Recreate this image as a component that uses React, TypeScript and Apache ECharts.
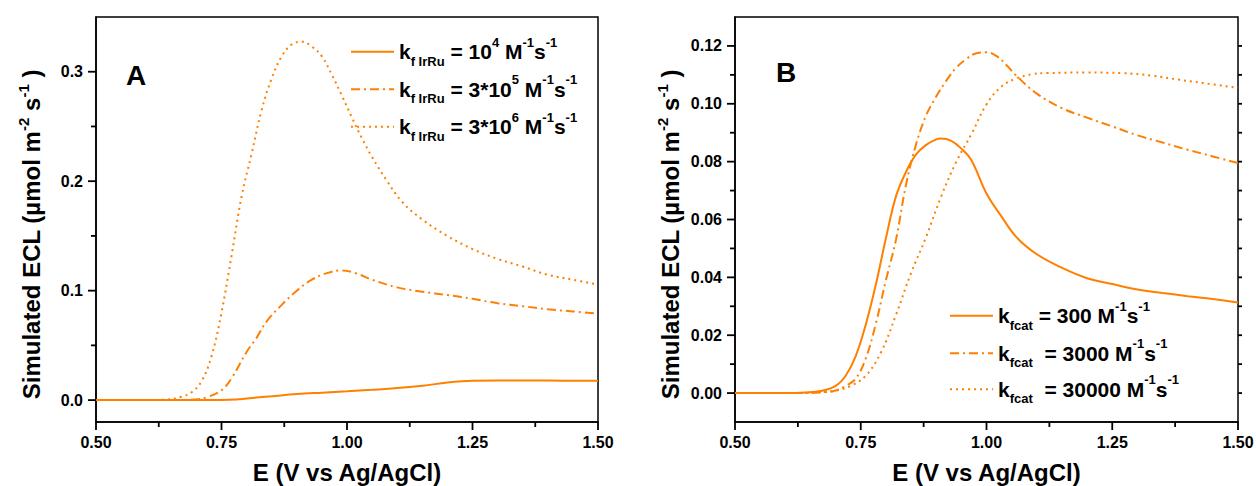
import React, { useEffect, useRef } from "react";
import * as echarts from "echarts";

// ---------- Data (panel A) ----------
const eA1 = [0.5, 0.6, 0.7, 0.75, 0.78, 0.8, 0.85, 0.9, 0.95, 1.0, 1.05, 1.1, 1.15, 1.2, 1.23, 1.25, 1.3, 1.4, 1.5];
const vA1 = [0, 0, 0, 0.0001, 0.0006, 0.0015, 0.0035, 0.0055, 0.0068, 0.008, 0.0094, 0.011, 0.0132, 0.016, 0.0172, 0.0176, 0.0178, 0.0178, 0.0177];

const eA2 = [0.5, 0.6, 0.65, 0.7, 0.72, 0.75, 0.77, 0.8, 0.82, 0.84, 0.87, 0.9, 0.93, 0.96, 0.99, 1.02, 1.05, 1.1, 1.15, 1.2, 1.25, 1.3, 1.35, 1.4, 1.45, 1.5];
const vA2 = [0, 0, 0, 0.0008, 0.0025, 0.009, 0.02, 0.044, 0.057, 0.072, 0.087, 0.1, 0.11, 0.116, 0.1185, 0.1155, 0.11, 0.103, 0.099, 0.096, 0.0925, 0.0885, 0.0858, 0.083, 0.081, 0.079];

const eA3 = [0.5, 0.6, 0.64, 0.67, 0.69, 0.71, 0.73, 0.75, 0.77, 0.79, 0.81, 0.83, 0.85, 0.87, 0.89, 0.91, 0.93, 0.95, 0.97, 0.99, 1.01, 1.03, 1.05, 1.08, 1.11, 1.15, 1.2, 1.25, 1.3, 1.35, 1.4, 1.45, 1.5];
const vA3 = [0, 0, 0.0005, 0.003, 0.007, 0.017, 0.04, 0.08, 0.132, 0.186, 0.225, 0.265, 0.294, 0.314, 0.325, 0.3275, 0.323, 0.314, 0.297, 0.278, 0.258, 0.239, 0.222, 0.2, 0.181, 0.165, 0.15, 0.138, 0.129, 0.122, 0.1145, 0.11, 0.1055];

// ---------- Data (panel B) ----------
const eB1 = [0.5, 0.6, 0.64, 0.67, 0.7, 0.72, 0.74, 0.76, 0.78, 0.8, 0.82, 0.84, 0.86, 0.88, 0.9, 0.91, 0.93, 0.95, 0.97, 1.0, 1.03, 1.06, 1.1, 1.15, 1.2, 1.25, 1.3, 1.35, 1.4, 1.45, 1.5];
const vB1 = [0, 0, 0.0002, 0.0007, 0.0025, 0.006, 0.0128, 0.0237, 0.0375, 0.0535, 0.068, 0.0765, 0.0825, 0.0858, 0.0877, 0.088, 0.0872, 0.0845, 0.0805, 0.069, 0.061, 0.0538, 0.048, 0.0433, 0.0397, 0.0377, 0.0358, 0.0346, 0.0335, 0.0325, 0.0313];

const eB2 = [0.5, 0.6, 0.65, 0.68, 0.7, 0.72, 0.74, 0.76, 0.78, 0.8, 0.82, 0.84, 0.86, 0.88, 0.9, 0.92, 0.94, 0.96, 0.98, 1.0, 1.02, 1.04, 1.06, 1.1, 1.15, 1.2, 1.25, 1.3, 1.35, 1.4, 1.45, 1.5];
const vB2 = [0, 0, 0.0001, 0.0004, 0.0009, 0.0025, 0.005, 0.012, 0.024, 0.039, 0.053, 0.072, 0.086, 0.096, 0.1025, 0.108, 0.1125, 0.1155, 0.1175, 0.1178, 0.1165, 0.1133, 0.1096, 0.1035, 0.0985, 0.0952, 0.0922, 0.0891, 0.0866, 0.0841, 0.0818, 0.0795];

const eB3 = [0.5, 0.6, 0.66, 0.7, 0.73, 0.76, 0.79, 0.82, 0.85, 0.88, 0.91, 0.94, 0.97, 1.0, 1.03, 1.06, 1.09, 1.12, 1.2, 1.27, 1.33, 1.38, 1.43, 1.5];
const vB3 = [0, 0, 0.0002, 0.0008, 0.0025, 0.006, 0.014, 0.027, 0.0415, 0.054, 0.068, 0.08, 0.0895, 0.0998, 0.106, 0.1088, 0.1102, 0.1106, 0.1108, 0.1106, 0.1097, 0.1084, 0.1072, 0.1055];

// ---------- Ticks / labels ----------
const xTicks = [0.5, 0.75, 1.0, 1.25, 1.5];
const xMinor = [0.625, 0.875, 1.125, 1.375];
const yTicksA = [0, 0.1, 0.2, 0.3];
const yMinorA = [0.05, 0.15, 0.25];
const yTicksB = [0, 0.02, 0.04, 0.06, 0.08, 0.1, 0.12];
const yMinorB = [0.01, 0.03, 0.05, 0.07, 0.09, 0.11];
const yRightB = [0, 0.01, 0.02, 0.03, 0.04, 0.05, 0.06, 0.07, 0.08, 0.09, 0.1, 0.11, 0.12];

const seriesNames = ["A1", "A2", "A3", "B1", "B2", "B3"];
const legendTexts = [
  "{t|k}{sub|f IrRu}{t| = 10}{sup|4}{t| M}{sup|-1}{t|s}{sup|-1}",
  "{t|k}{sub|f IrRu}{t| = 3*10}{sup|5}{t| M}{sup|-1}{t|s}{sup|-1}",
  "{t|k}{sub|f IrRu}{t| = 3*10}{sup|6}{t| M}{sup|-1}{t|s}{sup|-1}",
  "{t|k}{sub|fcat}{t| = 300 M}{sup|-1}{t|s}{sup|-1}",
  "{t|k}{sub|fcat}{t|  = 3000 M}{sup|-1}{t|s}{sup|-1}",
  "{t|k}{sub|fcat}{t|  = 30000 M}{sup|-1}{t|s}{sup|-1}",
];
const xTitle = "E (V vs Ag/AgCl)";
const yTitle = "{t|Simulated ECL (µmol m}{sup|-2}{t| s}{sup|-1}{t| )}";

const ORANGE = "#ff8000";
const FONT = "'Liberation Sans', Arial, sans-serif";
const dashes: any[] = ["solid", [9, 4, 2, 4], [2, 4]];

function pairs(e: number[], v: number[]) {
  return e.map((x, i) => [x, v[i]]);
}

const richLegend = {
  t: { fontSize: 21, fontWeight: "bold", fontFamily: FONT, color: "#000", lineHeight: 32, verticalAlign: "middle" },
  sub: { fontSize: 13, fontWeight: "bold", fontFamily: FONT, color: "#000", lineHeight: 10, verticalAlign: "bottom" },
  sup: { fontSize: 13, fontWeight: "bold", fontFamily: FONT, color: "#000", lineHeight: 22, verticalAlign: "top" },
};
const richTitle = {
  t: { fontSize: 24, fontWeight: "bold", fontFamily: FONT, color: "#000", lineHeight: 30, verticalAlign: "middle" },
  sup: { fontSize: 15, fontWeight: "bold", fontFamily: FONT, color: "#000", lineHeight: 20, verticalAlign: "top" },
};

const labelStyle = { color: "#000", fontSize: 16, fontWeight: "bold", fontFamily: FONT };

function xAxis(gridIndex: number) {
  return {
    type: "value",
    gridIndex,
    min: 0.5,
    max: 1.5,
    interval: 0.25,
    name: xTitle,
    nameLocation: "middle",
    nameGap: 37,
    nameTextStyle: { fontSize: 24, lineHeight: 26, fontWeight: "bold", fontFamily: FONT, color: "#000" },
    axisLine: { show: true, onZero: false, lineStyle: { color: "#000", width: 1.5 } },
    axisTick: { show: false },
    axisLabel: { ...labelStyle, margin: 12, formatter: (v: number) => v.toFixed(2) },
    splitLine: { show: false },
  };
}

function yAxisMain(gridIndex: number, min: number, max: number, ticks: number[], digits: number) {
  return {
    type: "value",
    gridIndex,
    min,
    max,
    name: yTitle,
    nameLocation: "middle",
    nameGap: 50,
    nameRotate: 90,
    nameTextStyle: { rich: richTitle, padding: [0, 30, 0, 0] },
    axisLine: { show: true, onZero: false, lineStyle: { color: "#000", width: 1.5 } },
    axisTick: { show: false },
    axisLabel: { ...labelStyle, margin: 13, customValues: ticks, formatter: (v: number) => v.toFixed(digits) },
    splitLine: { show: false },
  };
}

const legendPos = [
  { left: 350, cy: 51.7 },
  { left: 350, cy: 89.3 },
  { left: 350, cy: 126.7 },
  { left: 949, cy: 315.7 },
  { left: 949, cy: 353.3 },
  { left: 949, cy: 389.3 },
];

export default function App() {
  const ref = useRef<HTMLDivElement>(null);
  useEffect(() => {
    document.body.style.margin = "0";
    if (!ref.current) return;
    const chart = echarts.init(ref.current, null, { renderer: "svg" });
    const allData = [
      pairs(eA1, vA1), pairs(eA2, vA2), pairs(eA3, vA3),
      pairs(eB1, vB1), pairs(eB2, vB2), pairs(eB3, vB3),
    ];
    const series = allData.map((d, i) => ({
      name: seriesNames[i],
      type: "line",
      xAxisIndex: i < 3 ? 0 : 1,
      yAxisIndex: i < 3 ? 0 : 1,
      data: d,
      symbol: "none",
      showSymbol: false,
      smooth: 0.4,
      lineStyle: { color: ORANGE, width: 2, type: dashes[i % 3] },
      itemStyle: { color: ORANGE },
      z: 3,
    }));
    const legends = seriesNames.map((n, i) => ({
      data: [n],
      orient: "vertical",
      left: legendPos[i].left,
      top: legendPos[i].cy - 16,
      padding: 0,
      itemWidth: 43,
      itemHeight: 14,
      selectedMode: false,
      itemStyle: { opacity: 0, color: "transparent", borderWidth: 0 },
      formatter: () => legendTexts[i],
      textStyle: { rich: richLegend },
    }));
    const yRanges = [[-0.02, 0.35], [-0.01, 0.13]];
    chart.setOption({
      animation: false,
      backgroundColor: "#fff",
      grid: [
        { left: 96, top: 17, width: 502, height: 405, outerBoundsMode: "none", containLabel: false, show: true, borderColor: "#000", borderWidth: 1.5, backgroundColor: "transparent" },
        { left: 735, top: 17, width: 503, height: 405, outerBoundsMode: "none", containLabel: false, show: true, borderColor: "#000", borderWidth: 1.5, backgroundColor: "transparent" },
      ],
      xAxis: [xAxis(0), xAxis(1)],
      yAxis: [
        yAxisMain(0, yRanges[0][0], yRanges[0][1], yTicksA, 1),
        yAxisMain(1, yRanges[1][0], yRanges[1][1], yTicksB, 2),
      ],
      legend: legends,
      series,
    });

    // Tick marks as thin rectangles, positioned through the grids' own scales
    const W = 1.8;
    const marks: any[] = [];
    const px = (g: number, x: number, y: number) => chart.convertToPixel({ gridIndex: g }, [x, y]) as number[];
    const vTick = (p: number[], len: number) =>
      marks.push({ type: "rect", silent: true, z: 100, shape: { x: p[0] - W / 2, y: p[1], width: W, height: len }, style: { fill: "#000" } });
    const hTick = (p: number[], len: number) =>
      marks.push({ type: "rect", silent: true, z: 100, shape: { x: len < 0 ? p[0] + len : p[0], y: p[1] - W / 2, width: Math.abs(len), height: W }, style: { fill: "#000" } });
    for (let g = 0; g < 2; g++) {
      const y0 = yRanges[g][0];
      xTicks.forEach((v) => vTick(px(g, v, y0), 8));
      xMinor.forEach((v) => vTick(px(g, v, y0), 5));
      (g === 0 ? yTicksA : yTicksB).forEach((v) => hTick(px(g, 0.5, v), -8));
      (g === 0 ? yMinorA : yMinorB).forEach((v) => hTick(px(g, 0.5, v), -5));
      if (g === 1) yRightB.forEach((v) => hTick(px(g, 1.5, v), 4));
    }
    chart.setOption({
      graphic: [
        { type: "text", left: 126, top: 61, style: { text: "A", fontSize: 28, fontWeight: "bold", fontFamily: FONT, fill: "#000" } },
        { type: "text", left: 776, top: 58, style: { text: "B", fontSize: 28, fontWeight: "bold", fontFamily: FONT, fill: "#000" } },
        ...marks,
      ],
    });
    return () => chart.dispose();
  }, []);
  return <div ref={ref} style={{ width: 1256, height: 486 }} />;
}
